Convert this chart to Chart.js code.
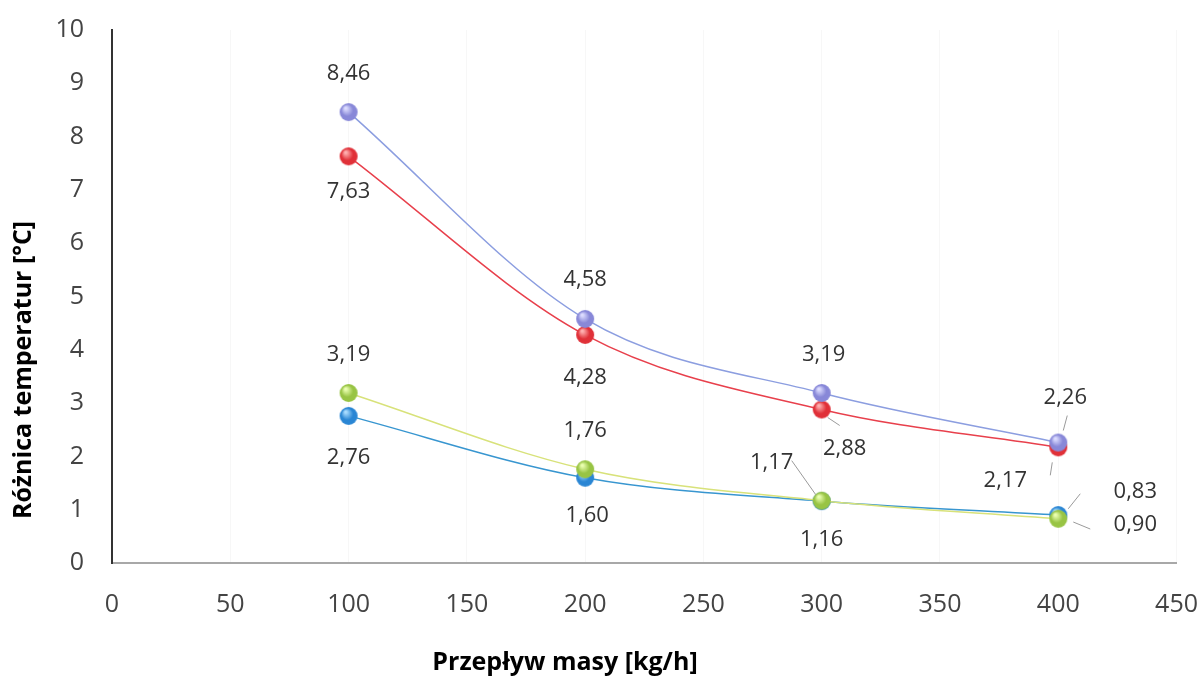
<!DOCTYPE html>
<html lang="pl">
<head>
<meta charset="UTF-8">
<title>Różnica temperatur</title>
<script src="https://cdn.jsdelivr.net/npm/chart.js"></script>
<style>
    html, body { margin: 0; padding: 0; background: #fff; }
    #wrap { width: 1200px; height: 679px; position: relative; }
</style>
</head>
<body>
<div id="wrap"><canvas id="chart"></canvas></div>
<script>
// data
const massFlow = [100, 200, 300, 400];
const purpleValues = [8.46, 4.58, 3.19, 2.26];
const redValues = [7.63, 4.28, 2.88, 2.17];
const greenValues = [3.19, 1.76, 1.17, 0.83];
const blueValues = [2.76, 1.60, 1.16, 0.90];
const xTicks = [0, 50, 100, 150, 200, 250, 300, 350, 400, 450];
const yTicks = [0, 1, 2, 3, 4, 5, 6, 7, 8, 9, 10];
const xTitle = 'Przepływ masy [kg/h]';
const yTitle = 'Różnica temperatur [°C]';

// label placement relative to the point: [dx, dy, leader segment or null]
const labelPlaces = [
    [[0, -38, null], [0, -39, null], [2, -38, null], [7, -45, [5, -12, 9, -27]]],
    [[0, 35, null], [0, 43, null], [23, 39, [6, 8, 18, 16]], [-53, 33, [-6, 15, -8, 28]]],
    [[0, -38, null], [0, -38, null], [-50, -38, [-6, -6, -30, -40]], [77, -27, [10, -10, 22, -25]]],
    [[0, 42, null], [2, 38, null], [0, 39, null], [77, 10, [15, 7, 32, 14]]]
];

function sphere(base, light) {
    const c = document.createElement('canvas');
    c.width = 20; c.height = 20;
    const g = c.getContext('2d');
    const grad = g.createRadialGradient(7, 6, 1, 10, 10, 10);
    grad.addColorStop(0, light);
    grad.addColorStop(0.55, base);
    grad.addColorStop(1, base);
    g.fillStyle = grad;
    g.beginPath();
    g.arc(10, 10, 9, 0, Math.PI * 2);
    g.fill();
    return c;
}

function points(vals) {
    return massFlow.map((x, i) => ({ x: x, y: vals[i] }));
}

function makeSet(vals, line, base, light) {
    return {
        data: points(vals),
        borderColor: line,
        borderWidth: 1.5,
        pointStyle: sphere(base, light),
        pointRadius: 10,
        cubicInterpolationMode: 'monotone',
        fill: false
    };
}

const labelPlugin = {
    id: 'labels',
    afterDatasetsDraw(chart) {
        const ctx = chart.ctx;
        ctx.save();
        ctx.font = '22px "Open Sans"';
        ctx.textAlign = 'center';
        ctx.textBaseline = 'middle';
        chart.data.datasets.forEach((ds, di) => {
            const meta = chart.getDatasetMeta(di);
            meta.data.forEach((pt, i) => {
                const p = labelPlaces[di][i];
                if (p[2]) {
                    ctx.strokeStyle = '#9a9a9a';
                    ctx.lineWidth = 1;
                    ctx.beginPath();
                    ctx.moveTo(pt.x + p[2][0], pt.y + p[2][1]);
                    ctx.lineTo(pt.x + p[2][2], pt.y + p[2][3]);
                    ctx.stroke();
                }
                ctx.fillStyle = '#333';
                ctx.fillText(ds.data[i].y.toFixed(2).replace('.', ','), pt.x + p[0], pt.y + p[1]);
            });
        });
        ctx.restore();
    },
    afterDraw(chart) {
        const ctx = chart.ctx;
        ctx.save();
        ctx.fillStyle = '#000';
        ctx.font = 'bold 25px "Open Sans"';
        ctx.textAlign = 'center';
        ctx.textBaseline = 'middle';
        ctx.fillText(xTitle, 565, 663);
        ctx.translate(24, 370);
        ctx.rotate(-Math.PI / 2);
        ctx.fillText(yTitle, 0, 0);
        ctx.restore();
    }
};

new Chart(document.getElementById('chart'), {
    type: 'line',
    data: {
        datasets: [
            makeSet(purpleValues, '#8c9ee0', '#8888d8', '#dcdcff'),
            makeSet(redValues, '#e8404c', '#e03038', '#ffb0b0'),
            makeSet(greenValues, '#d8e27a', '#98c444', '#eaffb0'),
            makeSet(blueValues, '#3896d0', '#2a86d4', '#a8dcff')
        ]
    },
    options: {
        responsive: true,
        maintainAspectRatio: false,
        animation: false,
        layout: { padding: { top: 30, right: 5, left: 0, bottom: 0 } },
        plugins: { legend: { display: false }, tooltip: { enabled: false } },
        scales: {
            x: {
                type: 'linear',
                min: 0,
                max: 450,
                afterBuildTicks(scale) { scale.ticks = xTicks.map(v => ({ value: v })); },
                afterFit(scale) { scale.height = 116; },
                grid: { color: 'rgba(0,0,0,0.03)', drawTicks: true, tickLength: 25, tickColor: 'transparent' },
                border: { color: '#a8a8a8', width: 2 },
                ticks: { color: '#444', padding: 2, font: { family: 'Open Sans', size: 25 } }
            },
            y: {
                min: 0,
                max: 10,
                afterBuildTicks(scale) { scale.ticks = yTicks.map(v => ({ value: v })); },
                afterFit(scale) { scale.width = 112; },
                grid: { display: false, drawTicks: true, tickLength: 26, tickColor: 'transparent' },
                border: { color: '#333', width: 2 },
                ticks: { color: '#444', padding: 2, font: { family: 'Open Sans', size: 25 } }
            }
        }
    },
    plugins: [labelPlugin]
});
</script>
</body>
</html>
